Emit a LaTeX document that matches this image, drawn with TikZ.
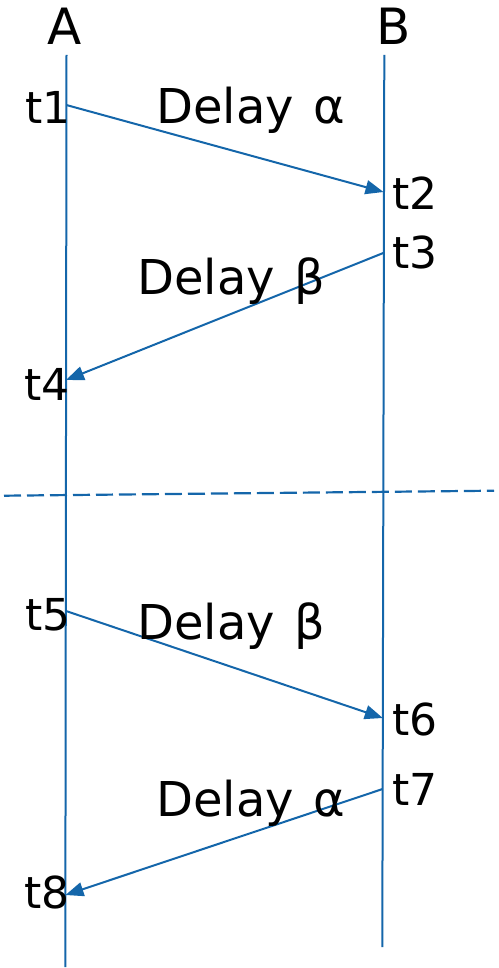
\documentclass[tikz,border=0pt]{standalone}
\usepackage{fontspec}
\setmainfont{DejaVu Sans}
\usepackage{tikz}
\usetikzlibrary{arrows.meta}
\definecolor{seqblue}{RGB}{20,102,170}
\tikzset{
  party/.style={anchor=base west,inner sep=0pt,font=\fontsize{50}{60}\selectfont},
  stamp/.style={anchor=base west,inner sep=0pt,font=\fontsize{44}{53}\selectfont},
  delaylbl/.style={anchor=base west,inner sep=0pt,font=\fontsize{48}{58}\selectfont},
  lifeline/.style={line width=2pt,draw=seqblue},
  msg/.style={-{Triangle[length=18pt,width=14pt]},line width=2pt,draw=seqblue},
  divider/.style={line width=2.2pt,draw=seqblue,dash pattern=on 17pt off 6pt}
}

\begin{document}
\begin{tikzpicture}[x=1pt,y=-1pt]
\useasboundingbox (0,0) rectangle (498,968);
% Lifelines
\node[party] (A) at (47,45) {A};
\node[party] (B) at (376,45) {B};
\coordinate (atop) at (66.5,55);
\coordinate (abot) at (65.3,967);
\coordinate (btop) at (384.3,55);
\coordinate (bbot) at (382.3,947);
\draw[lifeline] (atop) -- (abot);
\draw[lifeline] (btop) -- (bbot);

% Timestamps
\node[stamp] (t1) at (25,124) {t1};
\node[stamp] (t2) at (392,210) {t2};
\node[stamp] (t3) at (392,268) {t3};
\node[stamp] (t4) at (24,400) {t4};
\node[stamp] (t5) at (25,630) {t5};
\node[stamp] (t6) at (392,735) {t6};
\node[stamp] (t7) at (392,805) {t7};
\node[stamp] (t8) at (24,908) {t8};

\coordinate (p1) at (66.3,105);
\coordinate (p2) at (383.5,192);
\coordinate (p3) at (383.3,253);
\coordinate (p4) at (66,380);
\coordinate (p5) at (66,611);
\coordinate (p6) at (382.8,718);
\coordinate (p7) at (382.6,789);
\coordinate (p8) at (65.5,895);

% Messages
\draw[msg] (p1) -- (p2);
\draw[msg] (p3) -- (p4);
\draw[msg] (p5) -- (p6);
\draw[msg] (p7) -- (p8);

\node[delaylbl] (dA) at (156,124) {Delay\hspace{.42em}α};
\node[delaylbl] (dB) at (137,294) {Delay\hspace{.42em}β};
\node[delaylbl] (dC) at (137,639) {Delay\hspace{.42em}β};
\node[delaylbl] (dD) at (156,816) {Delay\hspace{.42em}α};

% Trennlinie
\coordinate (dl) at (4,495.7);
\coordinate (dr) at (494,490.7);
\draw[divider] (dl) -- (dr);
\end{tikzpicture}
\end{document}
